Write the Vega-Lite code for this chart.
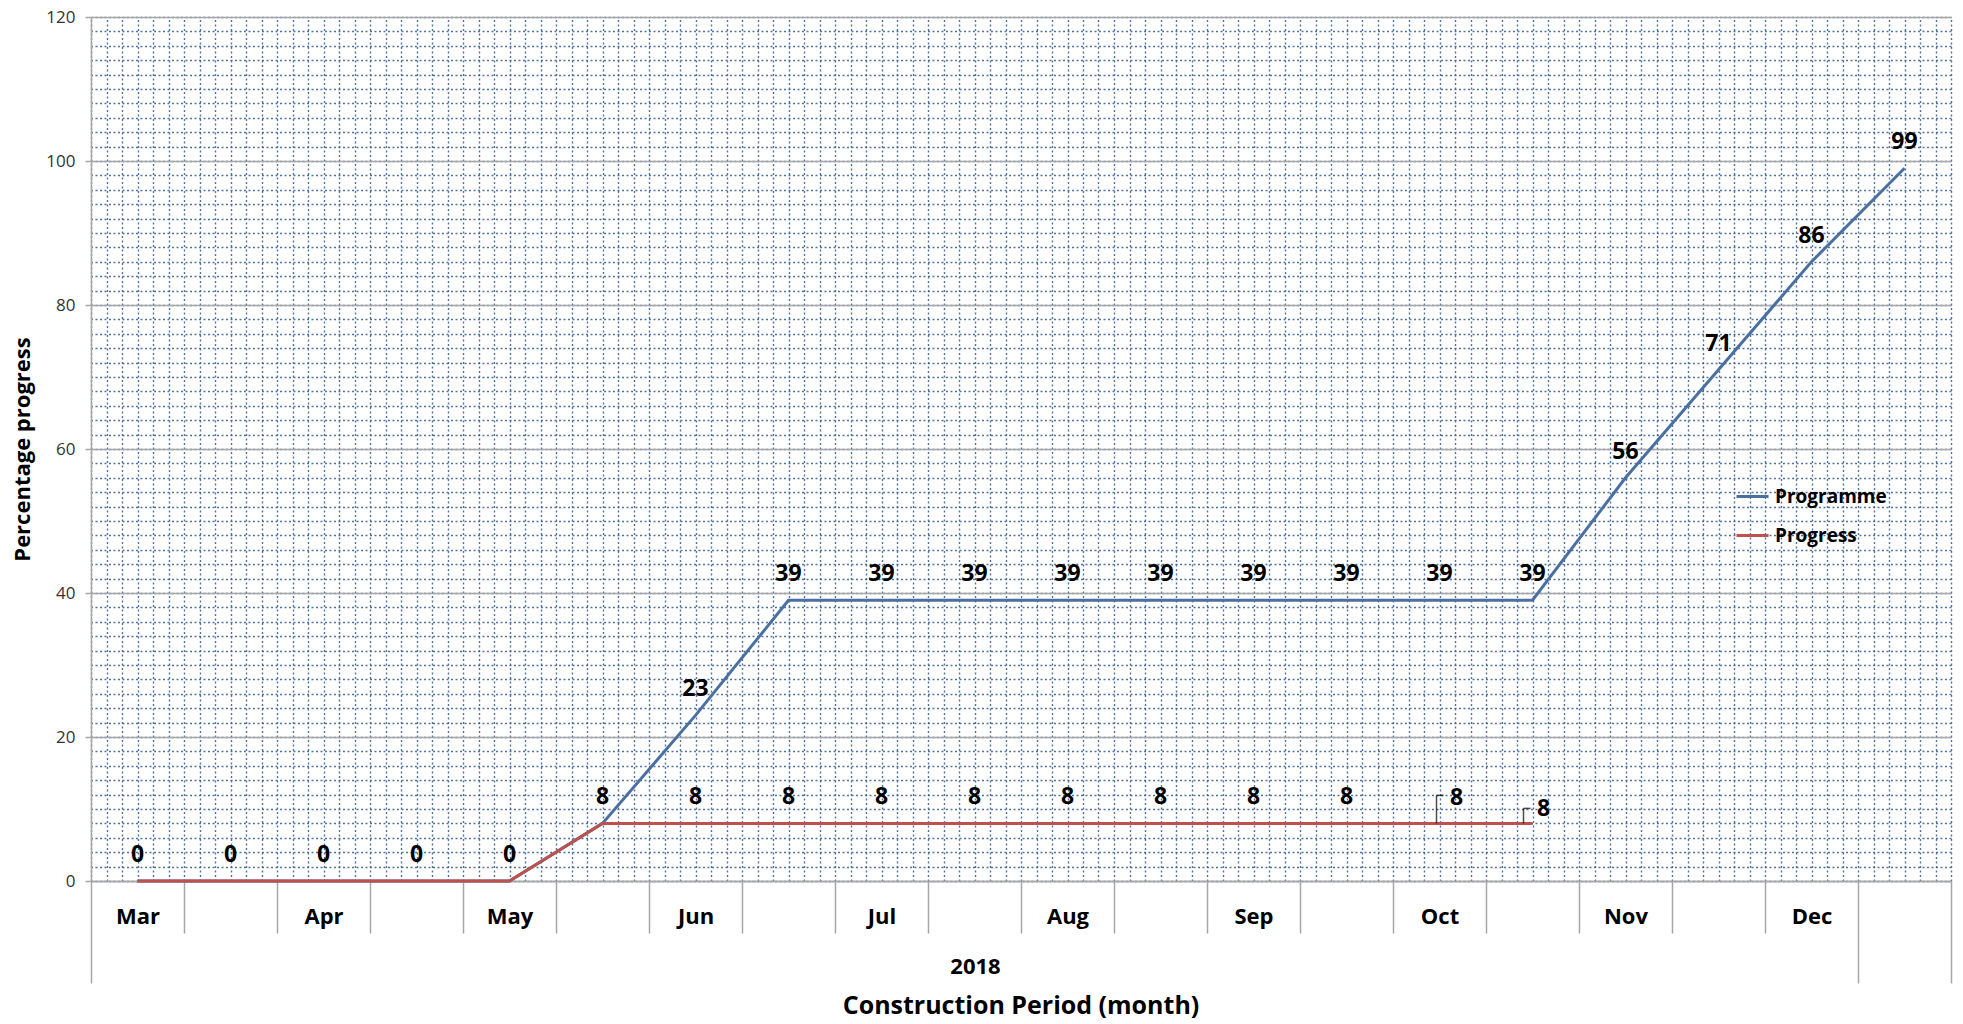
{
  "$schema": "https://vega.github.io/schema/vega-lite/v6.json",
  "autosize": {"type": "none"},
  "width": 1860,
  "height": 864,
  "padding": {"left": 91, "top": 17, "right": 12, "bottom": 143},
  "background": "white",
  "config": {
    "view": {"stroke": null},
    "font": "Open Sans",
    "axis": {"labelFont": "Open Sans", "titleFont": "Open Sans"}
  },
  "title": {
    "text": "Construction Period (month)",
    "orient": "bottom",
    "frame": "group",
    "anchor": "middle",
    "font": "Open Sans",
    "fontSize": 25,
    "fontWeight": "bold",
    "color": "#000000",
    "offset": 10
  },
  "data": {
    "values": [
      {"period": "Mar 1", "series": "Programme", "value": 0},
      {"period": "Mar 15", "series": "Programme", "value": 0},
      {"period": "Apr 1", "series": "Programme", "value": 0},
      {"period": "Apr 15", "series": "Programme", "value": 0},
      {"period": "May 1", "series": "Programme", "value": 0},
      {"period": "May 15", "series": "Programme", "value": 8},
      {"period": "Jun 1", "series": "Programme", "value": 23},
      {"period": "Jun 15", "series": "Programme", "value": 39},
      {"period": "Jul 1", "series": "Programme", "value": 39},
      {"period": "Jul 15", "series": "Programme", "value": 39},
      {"period": "Aug 1", "series": "Programme", "value": 39},
      {"period": "Aug 15", "series": "Programme", "value": 39},
      {"period": "Sep 1", "series": "Programme", "value": 39},
      {"period": "Sep 15", "series": "Programme", "value": 39},
      {"period": "Oct 1", "series": "Programme", "value": 39},
      {"period": "Oct 15", "series": "Programme", "value": 39},
      {"period": "Nov 1", "series": "Programme", "value": 56},
      {"period": "Nov 15", "series": "Programme", "value": 71},
      {"period": "Dec 1", "series": "Programme", "value": 86},
      {"period": "Dec 15", "series": "Programme", "value": 99},
      {"period": "Mar 1", "series": "Progress", "value": 0},
      {"period": "Mar 15", "series": "Progress", "value": 0},
      {"period": "Apr 1", "series": "Progress", "value": 0},
      {"period": "Apr 15", "series": "Progress", "value": 0},
      {"period": "May 1", "series": "Progress", "value": 0},
      {"period": "May 15", "series": "Progress", "value": 8},
      {"period": "Jun 1", "series": "Progress", "value": 8},
      {"period": "Jun 15", "series": "Progress", "value": 8},
      {"period": "Jul 1", "series": "Progress", "value": 8},
      {"period": "Jul 15", "series": "Progress", "value": 8},
      {"period": "Aug 1", "series": "Progress", "value": 8},
      {"period": "Aug 15", "series": "Progress", "value": 8},
      {"period": "Sep 1", "series": "Progress", "value": 8},
      {"period": "Sep 15", "series": "Progress", "value": 8},
      {"period": "Oct 1", "series": "Progress", "value": 8},
      {"period": "Oct 15", "series": "Progress", "value": 8}
    ]
  },
  "resolve": {
    "scale": {"x": "independent"},
    "axis": {"x": "independent", "y": "independent"}
  },
  "layer": [
    {
      "mark": {"type": "point", "opacity": 0},
      "encoding": {
        "x": {
          "field": "value", "type": "quantitative",
          "scale": {"domain": [0, 120], "nice": false, "zero": true},
          "axis": {"orient": "top", "grid": true, "tickCount": 120, "labels": false, "ticks": false, "domain": false, "title": null,
                   "gridColor": "#3e6391", "gridDash": [2, 2.5], "gridWidth": 1.4, "gridOpacity": 0.9}
        },
        "y": {
          "field": "value", "type": "quantitative",
          "scale": {"domain": [0, 120], "nice": false},
          "axis": {"orient": "right", "grid": true, "tickCount": 60, "labels": false, "ticks": false, "domain": false, "title": null,
                   "gridColor": "#3e6391", "gridDash": [2, 2.5], "gridWidth": 1.4, "gridOpacity": 0.9}
        }
      }
    },
    {
      "mark": {"type": "line", "strokeWidth": 3},
      "encoding": {
        "x": {
          "field": "period", "type": "ordinal",
          "scale": {"domain": ["Mar 1","Mar 15","Apr 1","Apr 15","May 1","May 15","Jun 1","Jun 15","Jul 1","Jul 15","Aug 1","Aug 15","Sep 1","Sep 15","Oct 1","Oct 15","Nov 1","Nov 15","Dec 1","Dec 15"], "paddingInner": 0, "paddingOuter": 0},
          "axis": {
            "orient": "bottom",
            "title": "2018",
            "titleFont": "Open Sans", "titleFontSize": 22, "titleFontWeight": "bold", "titleColor": "#000000",
            "titleX": 884, "titleY": 85, "titleAlign": "center", "titleBaseline": "middle", "titleAnchor": null,
            "labelExpr": "split(datum.value, ' ')[1] == '1' ? split(datum.value, ' ')[0] : ''",
            "labelAngle": 0,
            "labelFontSize": 22, "labelFontWeight": "bold", "labelColor": "#000000",
            "labelBaseline": "middle",
            "labelPadding": {"condition": {"test": "datum.value === 'Dec 1' || datum.value === 'Dec 15'", "value": -67}, "value": -17},
            "tickBand": "extent",
            "tickSize": {"condition": {"test": "datum.extra || datum.value === 'Dec 1' || datum.value === 'Dec 15'", "value": 102}, "value": 52},
            "tickColor": "#a6a6a6", "tickWidth": 1.5,
            "domainColor": "#a6a6a6", "domainWidth": 1.5,
            "grid": false
          }
        },
        "y": {
          "field": "value", "type": "quantitative",
          "scale": {"domain": [0, 120], "nice": false},
          "axis": {
            "values": [0, 20, 40, 60, 80, 100, 120],
            "grid": true, "gridColor": "#a6a6a6", "gridWidth": 1.5,
            "tickSize": 6, "tickColor": "#a6a6a6", "tickWidth": 1.5,
            "domainColor": "#a6a6a6", "domainWidth": 1.5,
            "labelFontSize": 17, "labelColor": "#333333", "labelPadding": 10,
            "title": "Percentage progress",
            "titleFontSize": 22, "titleFontWeight": "bold", "titleColor": "#000000", "titlePadding": 11
          }
        },
        "color": {
          "field": "series", "type": "nominal",
          "scale": {"domain": ["Programme", "Progress"], "range": ["#4a70a2", "#bd514e"]},
          "legend": {
            "orient": "none", "legendX": 1644, "legendY": 462,
            "title": null, "padding": 0,
            "symbolType": "stroke", "symbolSize": 1024, "symbolStrokeWidth": 3,
            "labelFont": "Open Sans", "labelFontSize": 19, "labelFontWeight": "bold", "labelColor": "#000000",
            "labelOffset": 5, "rowPadding": 11
          }
        }
      }
    },
    {
      "transform": [{"filter": "(datum.series == 'Progress' && datum.period != 'Oct 1' && datum.period != 'Oct 15') || (datum.series == 'Programme' && datum.value > 8)"}],
      "mark": {"type": "text", "dy": -26, "fontSize": 23, "fontWeight": "bold", "font": "Open Sans", "color": "#000000"},
      "encoding": {
        "x": {"field": "period", "type": "ordinal", "scale": {"domain": ["Mar 1","Mar 15","Apr 1","Apr 15","May 1","May 15","Jun 1","Jun 15","Jul 1","Jul 15","Aug 1","Aug 15","Sep 1","Sep 15","Oct 1","Oct 15","Nov 1","Nov 15","Dec 1","Dec 15"], "paddingInner": 0, "paddingOuter": 0}, "axis": null},
        "y": {"field": "value", "type": "quantitative", "scale": {"domain": [0, 120], "nice": false}, "axis": null},
        "text": {"field": "value", "type": "quantitative"}
      }
    },
    {
      "transform": [{"filter": "datum.series == 'Progress' && datum.period == 'Oct 1'"}],
      "mark": {"type": "text", "dx": 17, "dy": -25, "fontSize": 23, "fontWeight": "bold", "font": "Open Sans", "color": "#000000"},
      "encoding": {
        "x": {"field": "period", "type": "ordinal", "scale": {"domain": ["Mar 1","Mar 15","Apr 1","Apr 15","May 1","May 15","Jun 1","Jun 15","Jul 1","Jul 15","Aug 1","Aug 15","Sep 1","Sep 15","Oct 1","Oct 15","Nov 1","Nov 15","Dec 1","Dec 15"], "paddingInner": 0, "paddingOuter": 0}, "axis": null},
        "y": {"field": "value", "type": "quantitative", "scale": {"domain": [0, 120], "nice": false}, "axis": null},
        "text": {"field": "value", "type": "quantitative"}
      }
    },
    {
      "transform": [{"filter": "datum.series == 'Progress' && datum.period == 'Oct 15'"}],
      "mark": {"type": "text", "dx": 11, "dy": -14, "fontSize": 23, "fontWeight": "bold", "font": "Open Sans", "color": "#000000"},
      "encoding": {
        "x": {"field": "period", "type": "ordinal", "scale": {"domain": ["Mar 1","Mar 15","Apr 1","Apr 15","May 1","May 15","Jun 1","Jun 15","Jul 1","Jul 15","Aug 1","Aug 15","Sep 1","Sep 15","Oct 1","Oct 15","Nov 1","Nov 15","Dec 1","Dec 15"], "paddingInner": 0, "paddingOuter": 0}, "axis": null},
        "y": {"field": "value", "type": "quantitative", "scale": {"domain": [0, 120], "nice": false}, "axis": null},
        "text": {"field": "value", "type": "quantitative"}
      }
    },
    {
      "transform": [{"filter": "datum.series == 'Progress' && datum.period == 'Oct 1'"}],
      "layer": [
        {"mark": {"type": "tick", "orient": "vertical", "size": 28, "thickness": 1.5, "yOffset": -14, "xOffset": -3, "color": "#000000"}},
        {"mark": {"type": "tick", "orient": "horizontal", "size": 7, "thickness": 1.5, "yOffset": -28, "xOffset": 0.5, "color": "#000000"}}
      ],
      "encoding": {
        "x": {"field": "period", "type": "ordinal", "scale": {"domain": ["Mar 1","Mar 15","Apr 1","Apr 15","May 1","May 15","Jun 1","Jun 15","Jul 1","Jul 15","Aug 1","Aug 15","Sep 1","Sep 15","Oct 1","Oct 15","Nov 1","Nov 15","Dec 1","Dec 15"], "paddingInner": 0, "paddingOuter": 0}, "axis": null},
        "y": {"field": "value", "type": "quantitative", "scale": {"domain": [0, 120], "nice": false}, "axis": null}
      }
    },
    {
      "transform": [{"filter": "datum.series == 'Progress' && datum.period == 'Oct 15'"}],
      "layer": [
        {"mark": {"type": "tick", "orient": "vertical", "size": 15, "thickness": 1.5, "yOffset": -7.5, "xOffset": -9, "color": "#000000"}},
        {"mark": {"type": "tick", "orient": "horizontal", "size": 7, "thickness": 1.5, "yOffset": -15, "xOffset": -5.5, "color": "#000000"}}
      ],
      "encoding": {
        "x": {"field": "period", "type": "ordinal", "scale": {"domain": ["Mar 1","Mar 15","Apr 1","Apr 15","May 1","May 15","Jun 1","Jun 15","Jul 1","Jul 15","Aug 1","Aug 15","Sep 1","Sep 15","Oct 1","Oct 15","Nov 1","Nov 15","Dec 1","Dec 15"], "paddingInner": 0, "paddingOuter": 0}, "axis": null},
        "y": {"field": "value", "type": "quantitative", "scale": {"domain": [0, 120], "nice": false}, "axis": null}
      }
    }
  ]
}
